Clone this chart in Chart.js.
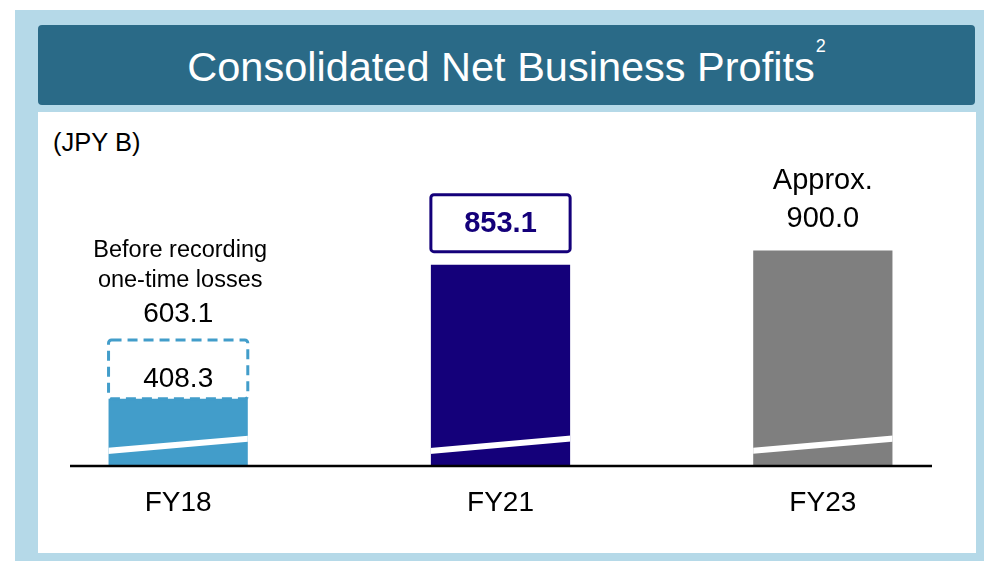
<!DOCTYPE html>
<html>
<head>
<meta charset="utf-8">
<script src="https://cdn.jsdelivr.net/npm/chart.js@4/dist/chart.umd.min.js"></script>
<style>
  body { margin: 0; width: 984px; height: 561px; position: relative; overflow: hidden; background: #fff;
         font-family: "Liberation Sans", Arial, sans-serif; }
  .frame { position: absolute; left: 15px; top: 10px; width: 969px; height: 551px; background: #b5d9e8; }
  .title { position: absolute; left: 38px; top: 25px; width: 937px; height: 80px; background: #2a6a87;
           border-radius: 4px; color: #fff; font-size: 41.5px; line-height: 80px; text-align: center;
           padding-top: 2px; box-sizing: border-box; }
  .title .sup { font-size: 18px; vertical-align: 29px; line-height: 0; margin-left: 1px; }
  .panel { position: absolute; left: 38px; top: 112px; width: 938px; height: 441px; background: #fff; }
  .unit { position: absolute; left: 53px; top: 127px; font-size: 25.5px; line-height: 30px; color: #000; }
  canvas { position: absolute; left: 0; top: 0; }
</style>
</head>
<body>
<div class="frame"></div>
<div class="title">Consolidated Net Business Profits<span class="sup">2</span></div>
<div class="panel"></div>
<div class="unit">(JPY B)</div>
<canvas id="profitChart" width="984" height="561"></canvas>

<script>
// Consolidated net business profits, JPY billions
const categories = ['FY18', 'FY21', 'FY23'];
const profits = [408.3, 853.1, 900.0];
const beforeOneTimeLosses = [603.1, null, null];
const fy18Note = ['Before recording', 'one-time losses'];
const approxPrefix = [false, false, true];

const barColors = ['#429dca', '#14007a', '#7f7f7f'];
const FONT = '"Liberation Sans", Arial, sans-serif';

// axis break lines, value labels, dashed "before losses" box and the baseline
const annotations = {
    id: 'annotations',
    afterDatasetsDraw(chart) {
        const ctx = chart.ctx;
        const y = chart.scales.y;
        const bars = chart.getDatasetMeta(0).data;
        const base = chart.chartArea.bottom;

        ctx.save();
        ctx.textAlign = 'center';
        ctx.textBaseline = 'middle';

        bars.forEach((bar, i) => {
            const left = bar.x - bar.width / 2;
            const right = bar.x + bar.width / 2;
            const top = bar.y;

            // white break stroke across the bar
            ctx.save();
            ctx.beginPath();
            ctx.rect(left, top, bar.width, base - top);
            ctx.clip();
            ctx.strokeStyle = '#fff';
            ctx.lineWidth = 6;
            ctx.beginPath();
            ctx.moveTo(left - 2, base - 15);
            ctx.lineTo(right + 2, base - 27.5);
            ctx.stroke();
            ctx.restore();

            if (beforeOneTimeLosses[i] != null) {
                const boxTop = y.getPixelForValue(beforeOneTimeLosses[i]);
                ctx.save();
                ctx.strokeStyle = barColors[i];
                ctx.lineWidth = 3;
                ctx.setLineDash([10, 6]);
                ctx.beginPath();
                ctx.roundRect(left, boxTop, bar.width, top - boxTop, 3);
                ctx.stroke();
                ctx.restore();

                ctx.fillStyle = '#000';
                ctx.font = '28px ' + FONT;
                ctx.fillText(profits[i].toFixed(1), bar.x, top - 19);
                ctx.fillText(beforeOneTimeLosses[i].toFixed(1), bar.x, boxTop - 26);
                ctx.font = '23.5px ' + FONT;
                ctx.fillText(fy18Note[1], bar.x + 2, boxTop - 59);
                ctx.fillText(fy18Note[0], bar.x + 2, boxTop - 89);
            } else if (approxPrefix[i]) {
                ctx.fillStyle = '#000';
                ctx.font = '29px ' + FONT;
                ctx.fillText(profits[i].toFixed(1), bar.x, top - 32);
                ctx.fillText('Approx.', bar.x, top - 70);
            } else {
                const bTop = top - 70, bBot = top - 13;
                ctx.strokeStyle = barColors[i];
                ctx.lineWidth = 3;
                ctx.beginPath();
                ctx.roundRect(left, bTop, bar.width, bBot - bTop, 3);
                ctx.stroke();
                ctx.fillStyle = barColors[i];
                ctx.font = 'bold 29px ' + FONT;
                ctx.fillText(profits[i].toFixed(1), bar.x, (bTop + bBot) / 2 + 1);
            }

            // category label
            ctx.fillStyle = '#000';
            ctx.font = '28px ' + FONT;
            ctx.fillText(categories[i], bar.x, 503);
        });

        // baseline
        ctx.strokeStyle = '#000';
        ctx.lineWidth = 2.5;
        ctx.beginPath();
        ctx.moveTo(70, base);
        ctx.lineTo(932, base);
        ctx.stroke();
        ctx.restore();
    }
};

new Chart(document.getElementById('profitChart').getContext('2d'), {
    type: 'bar',
    data: {
        labels: categories,
        datasets: [{
            data: profits,
            backgroundColor: barColors,
            borderWidth: 0,
            barPercentage: 0.432,
            categoryPercentage: 1
        }]
    },
    options: {
        responsive: false,
        animation: false,
        layout: { padding: { left: 17, right: 0, top: 130, bottom: 95 } },
        plugins: { legend: { display: false }, tooltip: { enabled: false } },
        scales: {
            x: { display: false },
            y: { display: false, min: 185, max: 1300 }
        }
    },
    plugins: [annotations]
});
</script>
</body>
</html>
